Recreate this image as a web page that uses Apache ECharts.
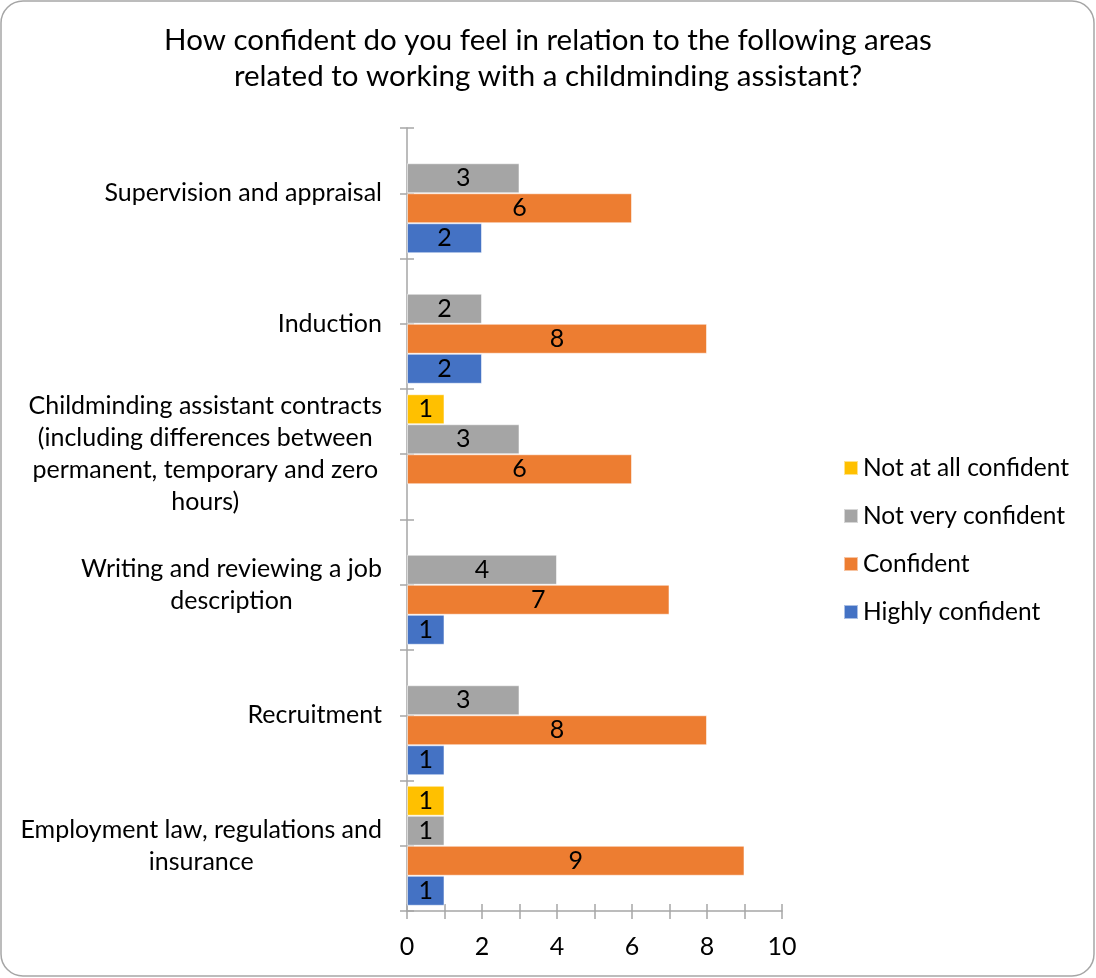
<!DOCTYPE html>
<html>
<head>
<meta charset="utf-8">
<script src="https://cdn.jsdelivr.net/npm/echarts@6/dist/echarts.min.js"></script>
<style>
  html, body { margin: 0; padding: 0; background: #fff; }
  #chart { width: 1096px; height: 978px; }
</style>
</head>
<body>
<div id="chart"></div>
<script>
// Chart text and data
const titleLines = [
  'How confident do you feel in relation to the following areas',
  'related to working with a childminding assistant?'
];
// Categories listed bottom to top (category axis starts at the bottom)
const categories = [
  'Employment law, regulations and\ninsurance',
  'Recruitment',
  'Writing and reviewing a job\ndescription',
  'Childminding assistant contracts\n(including differences between\npermanent, temporary and zero\nhours)',
  'Induction',
  'Supervision and appraisal'
];
// Listed top to bottom within each group, same order as the legend
const seriesNames = ['Not at all confident', 'Not very confident', 'Confident', 'Highly confident'];
const notAtAllConfident = [1, null, null, 1, null, null];
const notVeryConfident  = [1, 3, 4, 3, 2, 3];
const confident         = [9, 8, 7, 6, 8, 6];
const highlyConfident   = [1, 1, 1, null, 2, 2];
const valueTicks = [0, 2, 4, 6, 8, 10];

const seriesValues = [notAtAllConfident, notVeryConfident, confident, highlyConfident];
const seriesColors = ['#FFC000', '#A5A5A5', '#ED7D31', '#4472C4'];

const FONT = 'Lato';
const AXIS_GRAY = '#a6a6a6';

const chart = echarts.init(document.getElementById('chart'), null, { renderer: 'canvas' });

const gridBox = { left: 407, top: 128, width: 375, height: 783 };

const series = seriesNames.map((name, i) => ({
  name,
  type: 'bar',
  xAxisIndex: 0,
  yAxisIndex: 0,
  data: seriesValues[i],
  barGap: '0%',
  barCategoryGap: '8%',
  itemStyle: { color: seriesColors[i], borderColor: 'rgba(255,255,255,0.55)', borderWidth: 1 },
  label: {
    show: true,
    position: 'inside',
    color: '#000',
    fontFamily: FONT,
    fontSize: 25,
    formatter: p => (p.value == null ? '' : String(p.value))
  },
  emphasis: { disabled: true },
  animation: false
}));

const option = {
  animation: false,
  title: {
    text: titleLines.join('\n'),
    left: 'center',
    top: 17,
    textStyle: { fontFamily: FONT, fontSize: 29.5, fontWeight: 'normal', color: '#000', lineHeight: 36 }
  },
  legend: {
    orient: 'vertical',
    left: 838,
    top: 450,
    data: seriesNames,
    icon: 'rect',
    itemWidth: 14,
    itemHeight: 14,
    itemGap: 22,
    textStyle: { fontFamily: FONT, fontSize: 24.5, color: '#000', lineHeight: 26 },
    selectedMode: false
  },
  grid: gridBox,
  xAxis: [
    {
      type: 'value', position: 'bottom', min: 0, max: 10, interval: 1,
      axisLine: { show: true, lineStyle: { color: AXIS_GRAY, width: 1.5 } },
      axisTick: { show: false },
      splitLine: { show: false },
      axisLabel: {
        margin: 23, fontFamily: FONT, fontSize: 25, color: '#000',
        formatter: v => (valueTicks.includes(v) ? String(v) : '')
      }
    },
    {
      // tick marks crossing the value axis at every unit
      type: 'value', position: 'bottom', offset: -7, min: 0, max: 10, interval: 1,
      axisLine: { show: false },
      axisTick: { show: true, length: 15, lineStyle: { color: AXIS_GRAY, width: 1.5 } },
      splitLine: { show: false },
      axisLabel: { show: false }
    }
  ],
  yAxis: [
    {
      type: 'category', position: 'left', data: categories,
      axisLine: { show: true, lineStyle: { color: AXIS_GRAY, width: 1.5 } },
      axisTick: { show: false },
      axisLabel: {
        margin: 25,
        formatter: v => v.split('\n').map(l => '{c|' + l + '}').join('\n'),
        rich: { c: { fontFamily: FONT, fontSize: 25, color: '#000', lineHeight: 32, align: 'center' } }
      }
    },
    {
      // half-band tick marks crossing the category axis
      type: 'value', position: 'left', offset: -7, min: 0, max: 12, interval: 1,
      axisLine: { show: false },
      axisTick: { show: true, length: 14, lineStyle: { color: AXIS_GRAY, width: 1.5 } },
      splitLine: { show: false },
      axisLabel: { show: false }
    }
  ],
  graphic: [
    {
      type: 'rect',
      silent: true,
      shape: { x: 1, y: 1, width: 1093, height: 975, r: 22 },
      style: { fill: 'none', stroke: '#a6a6a6', lineWidth: 1.5 }
    }
  ],
  series
};

chart.setOption(option);
</script>
</body>
</html>
